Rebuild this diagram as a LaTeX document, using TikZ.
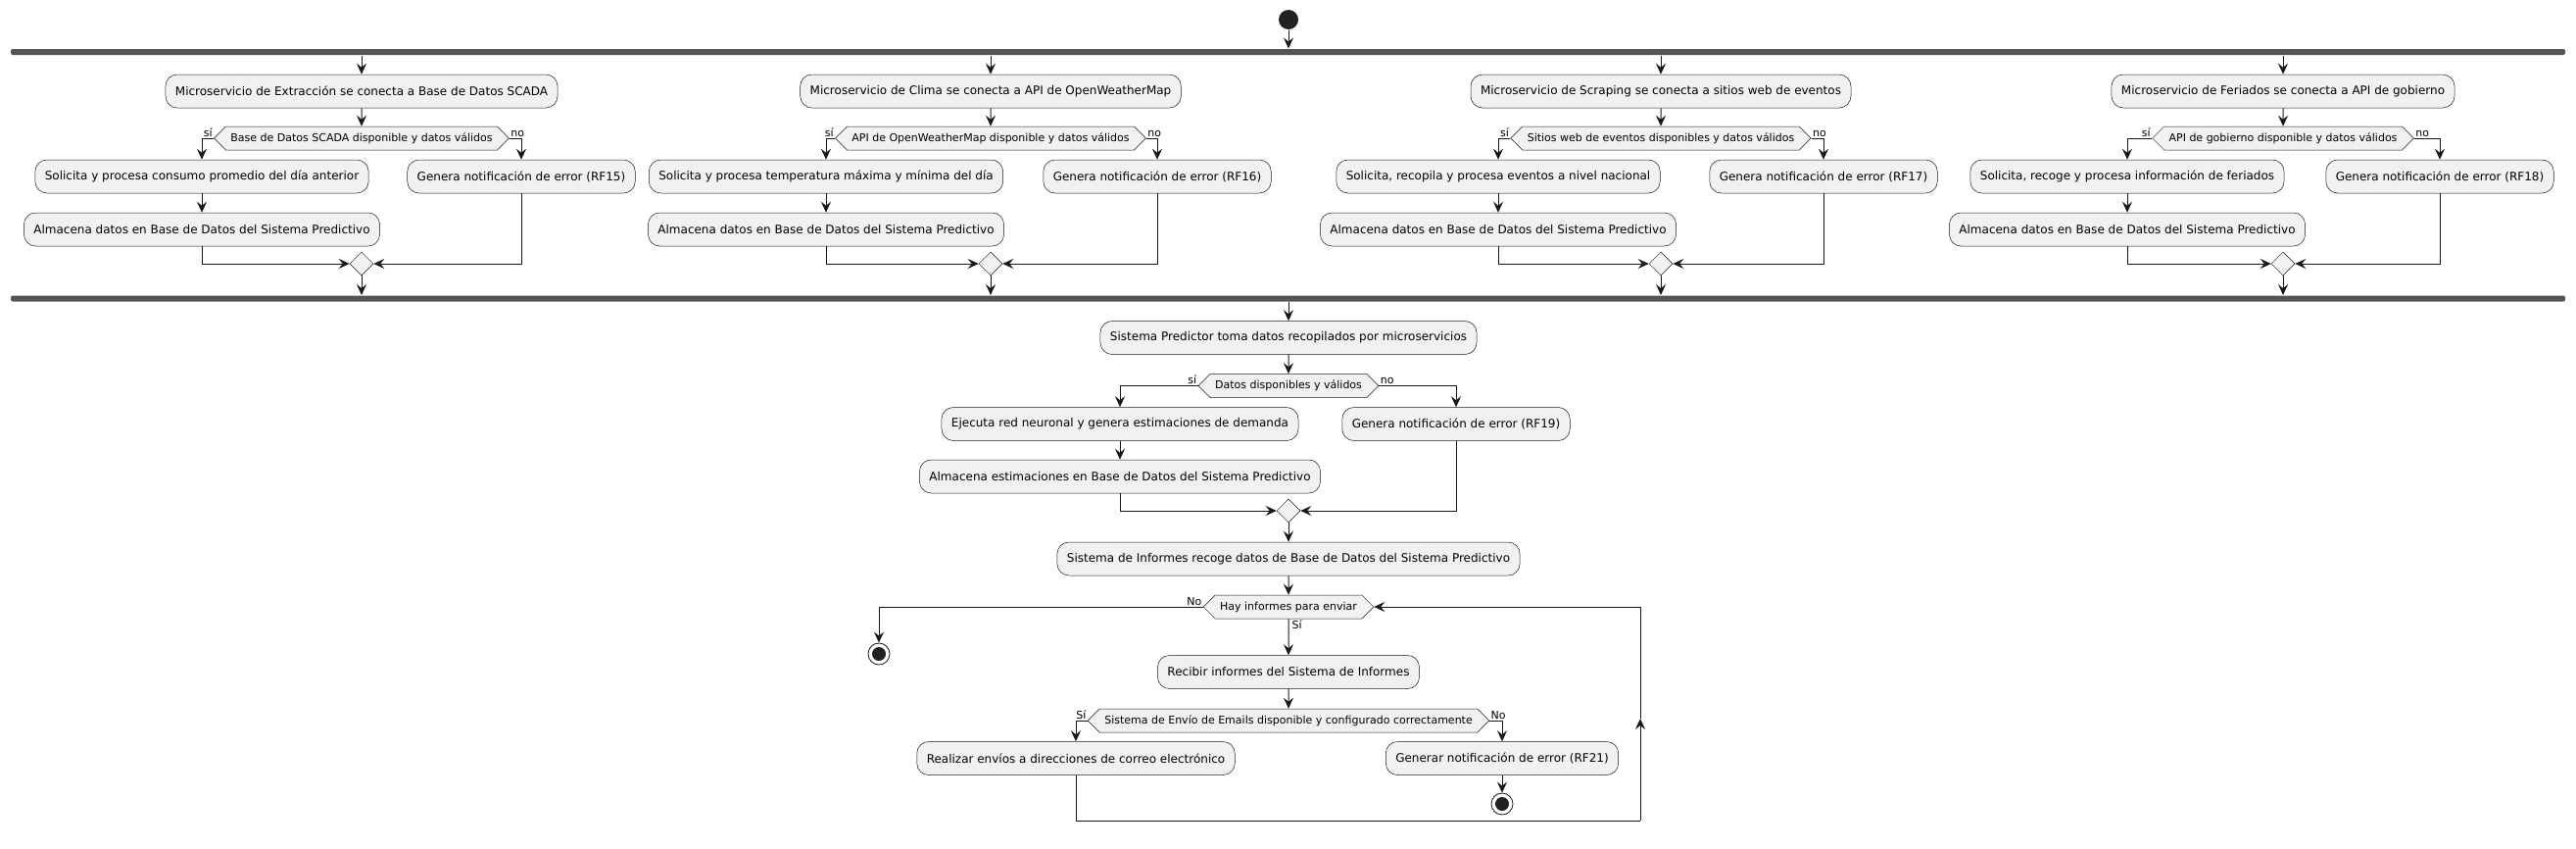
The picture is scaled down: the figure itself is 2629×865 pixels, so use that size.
\documentclass[tikz,border=0pt]{standalone}
\usepackage{fontspec}
\setmainfont{DejaVu Sans}
\usepackage{tikz}
\usetikzlibrary{arrows.meta,shapes.geometric,shapes.symbols}
\definecolor{actfill}{HTML}{F1F1F1}
\definecolor{actline}{HTML}{181818}
\definecolor{barfill}{HTML}{555555}
\definecolor{dotfill}{HTML}{222222}
\tikzset{%
  >={Stealth[width=10pt,length=11pt,inset=4pt]},
  % Specifications for style of nodes:
        base/.style = {rectangle, draw=actline, line width=0.5pt,
                       fill=actfill, text centered},
    activity/.style = {base, rounded corners=12pt, minimum height=34pt,
                       inner xsep=10pt, font=\fontsize{12}{14}\selectfont},
    decision/.style = {base, signal, signal to=west and east,
                       minimum height=24pt, inner xsep=5pt, inner ysep=2pt,
                       font=\fontsize{11}{13}\selectfont},
       merge/.style = {base, diamond, minimum width=24pt,
                       minimum height=24pt, inner sep=0pt},
     forkbar/.style = {rectangle, rounded corners=2pt, fill=barfill,
                       minimum width=2607pt, minimum height=6pt, inner sep=0pt},
    startdot/.style = {circle, fill=dotfill, minimum size=20pt, inner sep=0pt},
     stopdot/.style = {circle, draw=actline, line width=0.8pt, fill=white,
                       minimum size=22pt, inner sep=0pt,
                       path picture={\fill[dotfill] (path picture bounding box.center) circle (7pt);}},
       guard/.style = {inner sep=1pt, font=\fontsize{11}{13}\selectfont}
}
\begin{document}
\begin{tikzpicture}[x=1pt, y=-1pt, line width=1pt, draw=actline]
  \useasboundingbox (0,0) rectangle (2629,865);
  % Specification of nodes (position, etc.)
  \node (start)   [startdot] at (1315,20) {};
  \node (forkTop) [forkbar]  at (1314.5,53) {};
  \node (forkBot) [forkbar]  at (1314.5,304.5) {};

  % lane 1
  \node (scadaAct)   [activity] at (369,93)  {Microservicio de Extracción se conecta a Base de Datos SCADA};
  \node (scadaDec)   [decision] at (369,141) {Base de Datos SCADA disponible y datos válidos};
  \node (scadaYes)   [activity] at (206,180) {Solicita y procesa consumo promedio del día anterior};
  \node (scadaStore) [activity] at (206,234) {Almacena datos en Base de Datos del Sistema Predictivo};
  \node (scadaErr)   [activity] at (532,180) {Genera notificación de error (RF15)};
  \node (scadaMerge) [merge]    at (369,269) {};
  \node [guard, anchor=south east] at (scadaDec.west) {sí};
  \node [guard, anchor=south west] at (scadaDec.east) {no};

  % lane 2
  \node (climaAct)   [activity] at (1011,93)  {Microservicio de Clima se conecta a API de OpenWeatherMap};
  \node (climaDec)   [decision] at (1011,141) {API de OpenWeatherMap disponible y datos válidos};
  \node (climaYes)   [activity] at (843,180)  {Solicita y procesa temperatura máxima y mínima del día};
  \node (climaStore) [activity] at (843,234)  {Almacena datos en Base de Datos del Sistema Predictivo};
  \node (climaErr)   [activity] at (1181,180) {Genera notificación de error (RF16)};
  \node (climaMerge) [merge]    at (1011,269) {};
  \node [guard, anchor=south east] at (climaDec.west) {sí};
  \node [guard, anchor=south west] at (climaDec.east) {no};

  % lane 3
  \node (scrapAct)   [activity] at (1695,93)  {Microservicio de Scraping se conecta a sitios web de eventos};
  \node (scrapDec)   [decision] at (1695,141) {Sitios web de eventos disponibles y datos válidos};
  \node (scrapYes)   [activity] at (1529,180) {Solicita, recopila y procesa eventos a nivel nacional};
  \node (scrapStore) [activity] at (1529,234) {Almacena datos en Base de Datos del Sistema Predictivo};
  \node (scrapErr)   [activity] at (1861,180) {Genera notificación de error (RF17)};
  \node (scrapMerge) [merge]    at (1695,269) {};
  \node [guard, anchor=south east] at (scrapDec.west) {sí};
  \node [guard, anchor=south west] at (scrapDec.east) {no};

  % lane 4
  \node (ferAct)   [activity] at (2330,93)  {Microservicio de Feriados se conecta a API de gobierno};
  \node (ferDec)   [decision] at (2330,141) {API de gobierno disponible y datos válidos};
  \node (ferYes)   [activity] at (2171,180) {Solicita, recoge y procesa información de feriados};
  \node (ferStore) [activity] at (2171,234) {Almacena datos en Base de Datos del Sistema Predictivo};
  \node (ferErr)   [activity] at (2490,180) {Genera notificación de error (RF18)};
  \node (ferMerge) [merge]    at (2330,269) {};
  \node [guard, anchor=south east] at (ferDec.west) {sí};
  \node [guard, anchor=south west] at (ferDec.east) {no};

  % predictor and reports
  \node (predAct)   [activity] at (1315,344.5) {Sistema Predictor toma datos recopilados por microservicios};
  \node (predDec)   [decision] at (1315,393.5) {Datos disponibles y válidos};
  \node (predYes)   [activity] at (1143,432.5) {Ejecuta red neuronal y genera estimaciones de demanda};
  \node (predStore) [activity] at (1143,486)   {Almacena estimaciones en Base de Datos del Sistema Predictivo};
  \node (predErr)   [activity] at (1486,432.5) {Genera notificación de error (RF19)};
  \node (predMerge) [merge]    at (1315,521)   {};
  \node [guard, anchor=south east] at (predDec.west) {sí};
  \node [guard, anchor=south west] at (predDec.east) {no};
  \node (repAct)    [activity] at (1315,570)   {Sistema de Informes recoge datos de Base de Datos del Sistema Predictivo};

  \node (hayDec)   [decision] at (1315,619)   {Hay informes para enviar};
  \node (stopEnd)  [stopdot]  at (897,667)    {};
  \node (recvAct)  [activity] at (1315,685.5) {Recibir informes del Sistema de Informes};
  \node (mailDec)  [decision] at (1315,735)   {Sistema de Envío de Emails disponible y configurado correctamente};
  \node (sendAct)  [activity] at (1098,773.5) {Realizar envíos a direcciones de correo electrónico};
  \node (mailErr)  [activity] at (1533,773.5) {Generar notificación de error (RF21)};
  \node (stopErr)  [stopdot]  at (1533,820)   {};
  \node [guard, anchor=south east] at (hayDec.west) {No};
  \node [guard, anchor=north west, xshift=2pt] at (hayDec.south) {Sí};
  \node [guard, anchor=south east] at (mailDec.west) {Sí};
  \node [guard, anchor=south west] at (mailDec.east) {No};
  \coordinate (loopB) at (1674,837);
  \coordinate (loopM) at (1674,733);
  \coordinate (loopT) at (1674,619);

  \draw[->] (start) -- (start |- forkTop.north);

  \draw[->] (forkTop.south -| scadaAct) -- (scadaAct);
  \draw[->] (scadaAct) edge (scadaDec);
  \draw[->] (scadaDec.west) -| (scadaYes);
  \draw[->] (scadaDec.east) -| (scadaErr);
  \draw[->] (scadaYes) edge (scadaStore);
  \draw[->] (scadaStore) |- (scadaMerge);
  \draw[->] (scadaErr) |- (scadaMerge);
  \draw[->] (scadaMerge) -- (scadaMerge |- forkBot.north);

  \draw[->] (forkTop.south -| climaAct) -- (climaAct);
  \draw[->] (climaAct) edge (climaDec);
  \draw[->] (climaDec.west) -| (climaYes);
  \draw[->] (climaDec.east) -| (climaErr);
  \draw[->] (climaYes) edge (climaStore);
  \draw[->] (climaStore) |- (climaMerge);
  \draw[->] (climaErr) |- (climaMerge);
  \draw[->] (climaMerge) -- (climaMerge |- forkBot.north);

  \draw[->] (forkTop.south -| scrapAct) -- (scrapAct);
  \draw[->] (scrapAct) edge (scrapDec);
  \draw[->] (scrapDec.west) -| (scrapYes);
  \draw[->] (scrapDec.east) -| (scrapErr);
  \draw[->] (scrapYes) edge (scrapStore);
  \draw[->] (scrapStore) |- (scrapMerge);
  \draw[->] (scrapErr) |- (scrapMerge);
  \draw[->] (scrapMerge) -- (scrapMerge |- forkBot.north);

  \draw[->] (forkTop.south -| ferAct) -- (ferAct);
  \draw[->] (ferAct) edge (ferDec);
  \draw[->] (ferDec.west) -| (ferYes);
  \draw[->] (ferDec.east) -| (ferErr);
  \draw[->] (ferYes) edge (ferStore);
  \draw[->] (ferStore) |- (ferMerge);
  \draw[->] (ferErr) |- (ferMerge);
  \draw[->] (ferMerge) -- (ferMerge |- forkBot.north);

  \draw[->] (forkBot.south -| predAct) -- (predAct);
  \draw[->] (predAct) edge (predDec);
  \draw[->] (predDec.west) -| (predYes);
  \draw[->] (predDec.east) -| (predErr);
  \draw[->] (predYes) edge (predStore);
  \draw[->] (predStore) |- (predMerge);
  \draw[->] (predErr) |- (predMerge);
  \draw[->] (predMerge) edge (repAct);
  \draw[->] (repAct) edge (hayDec);

  \draw[->] (hayDec.west) -| (stopEnd);
  \draw[->] (hayDec) edge (recvAct);
  \draw[->] (recvAct) edge (mailDec);
  \draw[->] (mailDec.west) -| (sendAct);
  \draw[->] (mailDec.east) -| (mailErr);
  \draw[->] (mailErr) edge (stopErr);
  \draw (sendAct) |- (loopB);
  \draw[->] (loopB) -- (loopM);
  \draw[->] (loopM) -- (loopT) -- (hayDec.east);
\end{tikzpicture}
\end{document}
